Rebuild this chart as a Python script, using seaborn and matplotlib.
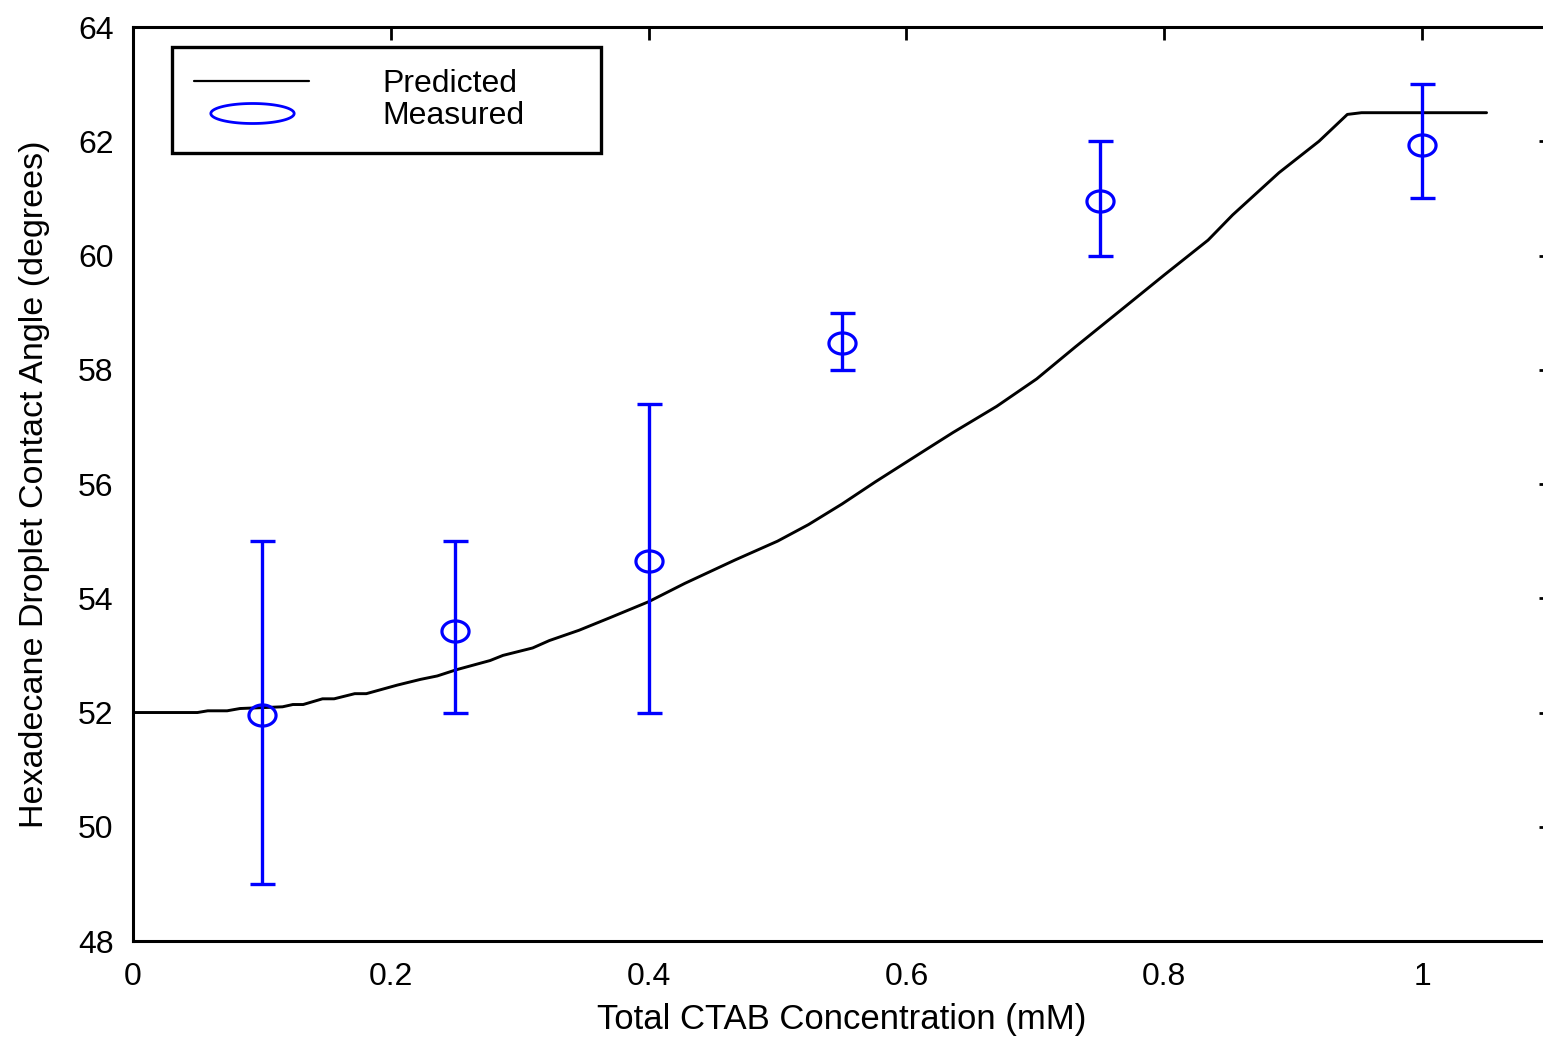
import numpy as np
import pandas as pd
import matplotlib
matplotlib.use("Agg")
import matplotlib.pyplot as plt
from matplotlib.path import Path
from matplotlib.lines import Line2D
import seaborn as sns

# ---- data ----
pred_x = [0.0, 0.05, 0.058, 0.073, 0.083, 0.116, 0.124, 0.132, 0.147, 0.156,
          0.172, 0.181, 0.205, 0.223, 0.236, 0.251, 0.277, 0.287, 0.310, 0.323,
          0.346, 0.370, 0.400, 0.428, 0.467, 0.500, 0.524, 0.550, 0.576, 0.615,
          0.636, 0.670, 0.701, 0.731, 0.765, 0.800, 0.834, 0.853, 0.889, 0.920,
          0.942, 0.953, 1.05]
pred_y = [52.0, 52.0, 52.03, 52.03, 52.07, 52.10, 52.14, 52.14, 52.24, 52.24,
          52.33, 52.33, 52.48, 52.58, 52.64, 52.75, 52.91, 53.00, 53.13, 53.26,
          53.44, 53.66, 53.94, 54.26, 54.67, 55.00, 55.29, 55.65, 56.04, 56.60,
          56.90, 57.36, 57.84, 58.40, 59.02, 59.66, 60.27, 60.71, 61.45, 62.00,
          62.47, 62.50, 62.50]

meas_x = [0.10, 0.25, 0.40, 0.55, 0.75, 1.00]
meas_y = [51.95, 53.43, 54.65, 58.47, 60.95, 61.93]
meas_lo = [49.0, 52.0, 52.0, 58.0, 60.0, 61.0]
meas_hi = [55.0, 55.0, 57.4, 59.0, 62.0, 63.0]

x_ticks = [0, 0.2, 0.4, 0.6, 0.8, 1.0]
x_tick_labels = ["0", "0.2", "0.4", "0.6", "0.8", "1"]
y_ticks = [48, 50, 52, 54, 56, 58, 60, 62, 64]

sns.set_style("white")
plt.rcParams['font.family'] = ['Liberation Sans', 'DejaVu Sans']
plt.rcParams['text.color'] = 'black'
plt.rcParams['axes.labelcolor'] = 'black'
plt.rcParams['xtick.color'] = 'black'
plt.rcParams['ytick.color'] = 'black'

fig = plt.figure(figsize=(15.43, 10.39), dpi=100)
ax = fig.add_axes([0.0862, 0.0943, 0.919, 0.8797])

pred_df = pd.DataFrame({"x": pred_x, "y": pred_y})
sns.lineplot(data=pred_df, x="x", y="y", ax=ax, color="black", lw=2.1,
             sort=False, estimator=None)

def ellipse_marker(ratio):
    t = np.linspace(0, 2 * np.pi, 120)
    verts = np.column_stack([np.cos(t), ratio * np.sin(t)])
    return Path(verts, closed=True)

blue = "#0000ff"
my = np.array(meas_y)
yerr = [my - np.array(meas_lo), np.array(meas_hi) - my]
ax.errorbar(meas_x, meas_y, yerr=yerr, fmt="none", ecolor=blue,
            elinewidth=2.4, capsize=9, capthick=2.4, zorder=3)
ax.plot(meas_x, meas_y, linestyle="none", marker=ellipse_marker(0.78),
        markersize=19.5, markerfacecolor="none", markeredgecolor=blue,
        markeredgewidth=2.3, zorder=4)

ax.set_xlim(0, 1.1)
ax.set_ylim(48, 64)
ax.set_xticks(x_ticks)
ax.set_xticklabels(x_tick_labels)
ax.set_yticks(y_ticks)

for s in ax.spines.values():
    s.set_visible(True)
    s.set_color("black")
    s.set_linewidth(2.2)
ax.tick_params(direction="in", length=9, width=2.0, top=True, right=True,
               labelsize=23, colors="black", pad=14)
ax.tick_params(axis="x", pad=15)

ax.set_xlabel("Total CTAB Concentration (mM)", fontsize=25, labelpad=8)
ax.set_ylabel("Hexadecane Droplet Contact Angle (degrees)", fontsize=24.5,
              labelpad=20)

h_pred = Line2D([], [], color="black", lw=1.6)
h_meas = Line2D([], [], linestyle="none", marker=ellipse_marker(0.24),
                markersize=60, markerfacecolor="none", markeredgecolor=blue,
                markeredgewidth=2.0)
leg = ax.legend([h_pred, h_meas], ["Predicted", "Measured"],
                loc="upper left", bbox_to_anchor=(0.0275, 0.862, 0.3025, 0.116),
                mode="expand", borderaxespad=0, fontsize=23, frameon=True,
                fancybox=False, edgecolor="black", framealpha=1,
                handlelength=3.6, handletextpad=2.3, labelspacing=0.05,
                borderpad=0.7)
leg.get_frame().set_linewidth(2.4)

fig.savefig("out.png", dpi=100)
